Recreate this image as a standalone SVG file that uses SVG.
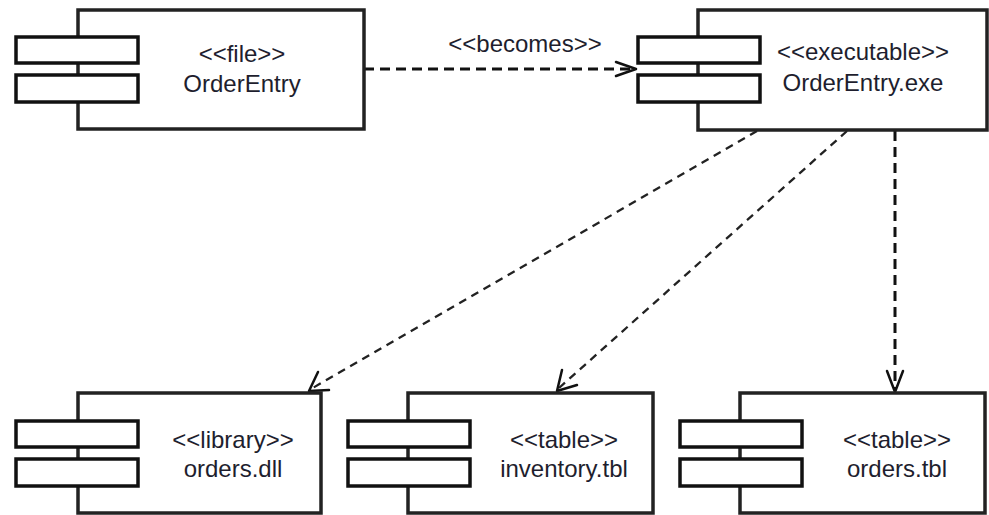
<svg xmlns="http://www.w3.org/2000/svg" width="989" height="515" viewBox="0 0 989 515">
  <style>
    .box { fill: #fff; stroke: #222; stroke-width: 3.5; }
    .tab { fill: #fff; stroke: #111; stroke-width: 3.5; }
    .lbl { font-family: "Liberation Sans", Arial, sans-serif; font-size: 24px; fill: #1e1e2e; text-anchor: middle; }
    .dep-thick { fill: none; stroke: #111; stroke-width: 3; stroke-dasharray: 10 6; }
    .dep-thin { fill: none; stroke: #222; stroke-width: 2.3; stroke-dasharray: 8 6; }
    .head { fill: none; stroke: #111; stroke-width: 2.5; stroke-linecap: round; stroke-linejoin: round; }
  </style>
  <defs>
    <!-- UML component icon: body with two tabs on its left edge -->
    <g id="component-tabs">
      <rect class="tab" x="0" y="0" width="122" height="26"/>
      <rect class="tab" x="0" y="38" width="122" height="27"/>
    </g>
  </defs>

  <rect width="989" height="515" fill="#fff"/>

  <g id="connectors">
    <!-- <<becomes>> -->
    <line class="dep-thick" x1="364" y1="69" x2="634" y2="69"/>
    <polyline class="head" points="616,62 636,69 616,76"/>
    <text class="lbl" x="525" y="52">&lt;&lt;becomes&gt;&gt;</text>

    <!-- OrderEntry.exe -> orders.dll -->
    <line class="dep-thin" x1="757" y1="131" x2="311" y2="389"/>
    <polyline class="head" points="318,372 309,391 329,390"/>

    <!-- OrderEntry.exe -> inventory.tbl -->
    <line class="dep-thin" x1="847" y1="131" x2="559" y2="388"/>
    <polyline class="head" points="562,370 557,391 577,385"/>

    <!-- OrderEntry.exe -> orders.tbl -->
    <line class="dep-thick" x1="895" y1="131" x2="895" y2="390"/>
    <polyline class="head" points="887,371 895,392 903,371"/>
  </g>

  <g id="node-orderentry">
    <rect class="box" x="78" y="10" width="286" height="119"/>
    <use href="#component-tabs" x="16" y="37"/>
    <text class="lbl" x="242" y="62">&lt;&lt;file&gt;&gt;</text>
    <text class="lbl" x="242" y="92">OrderEntry</text>
  </g>

  <g id="node-orderentry-exe">
    <rect class="box" x="698" y="10" width="289" height="120"/>
    <use href="#component-tabs" x="638" y="37"/>
    <text class="lbl" x="863" y="60">&lt;&lt;executable&gt;&gt;</text>
    <text class="lbl" x="863" y="91">OrderEntry.exe</text>
  </g>

  <g id="node-orders-dll">
    <rect class="box" x="78" y="393" width="243" height="120"/>
    <use href="#component-tabs" x="16" y="421"/>
    <text class="lbl" x="233" y="448">&lt;&lt;library&gt;&gt;</text>
    <text class="lbl" x="233" y="477">orders.dll</text>
  </g>

  <g id="node-inventory-tbl">
    <rect class="box" x="408" y="393" width="245" height="120"/>
    <use href="#component-tabs" x="348" y="421"/>
    <text class="lbl" x="564" y="448">&lt;&lt;table&gt;&gt;</text>
    <text class="lbl" x="564" y="477">inventory.tbl</text>
  </g>

  <g id="node-orders-tbl">
    <rect class="box" x="740" y="393" width="245" height="120"/>
    <use href="#component-tabs" x="680" y="421"/>
    <text class="lbl" x="897" y="448">&lt;&lt;table&gt;&gt;</text>
    <text class="lbl" x="897" y="477">orders.tbl</text>
  </g>
</svg>
